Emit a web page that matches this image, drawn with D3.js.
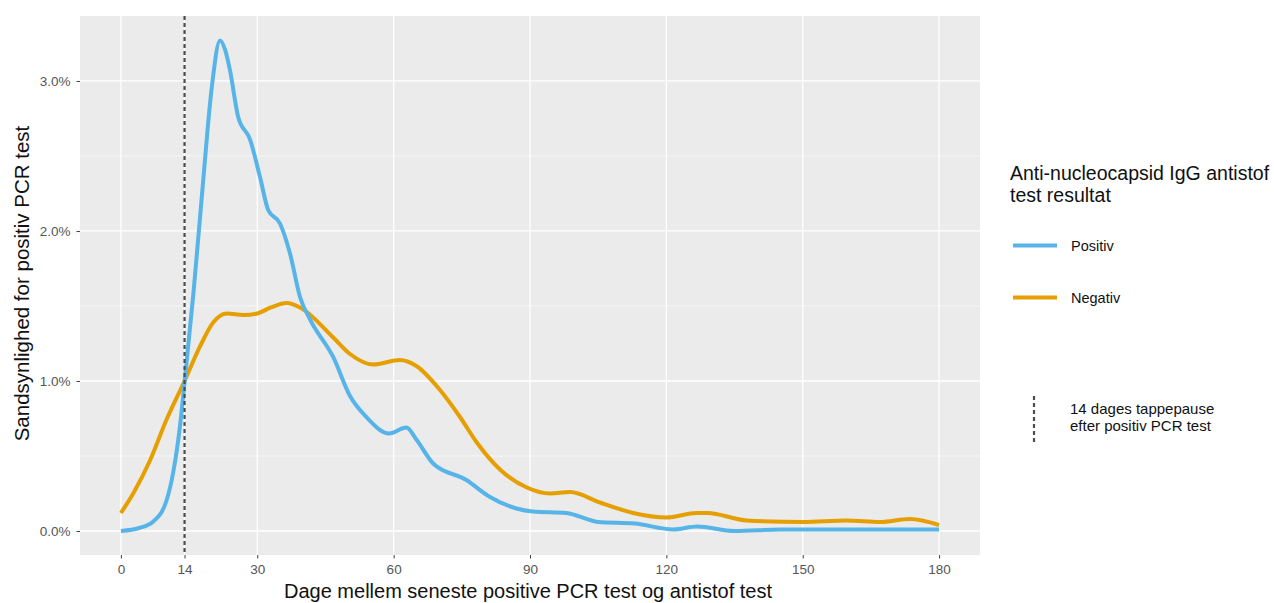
<!doctype html>
<html>
<head>
  <meta charset="utf-8">
  <title>Sandsynlighed for positiv PCR test</title>
  <style>
    body { margin: 0; background: #fff; }
    svg { display: block; font-family: "Liberation Sans", Arial, sans-serif; }
  </style>
</head>
<body>
  <div id="chart"></div>
  <script src="https://d3js.org/d3.v7.min.js"></script>
  <script>
    // data (day, percent)
    const posDays = [0, 4, 7, 10, 11.5, 13, 14, 16, 18, 20, 21.8, 23, 24, 25.8, 28.4, 30.6, 32.4, 35, 37.2, 39.4, 41.6, 46.7, 50.4, 54, 59, 62.8, 65, 68.7, 76, 81, 87, 90.7, 98, 105, 113, 121.5, 126.7, 135, 145, 155, 165, 172, 180];
    const posValues = [0, 0.02, 0.06, 0.2, 0.39, 0.7, 0.99, 1.6, 2.3, 2.96, 3.27, 3.2, 3.07, 2.76, 2.61, 2.36, 2.14, 2.05, 1.85, 1.56, 1.41, 1.16, 0.9, 0.76, 0.65, 0.69, 0.61, 0.45, 0.34, 0.23, 0.15, 0.13, 0.12, 0.06, 0.05, 0.01, 0.03, 0.0, 0.01, 0.01, 0.01, 0.01, 0.01];
    const negDays = [0, 2.7, 6.4, 10, 14, 17.4, 20.3, 23.3, 27, 30, 33, 36.5, 39.4, 46.7, 50.4, 55.5, 61.4, 65, 70.2, 74.6, 78.3, 83.4, 89.3, 94.4, 98.8, 105.4, 112.7, 120, 126.7, 129, 137.7, 150, 159.7, 167, 173.6, 180];
    const negValues = [0.12, 0.25, 0.47, 0.74, 1.0, 1.23, 1.39, 1.45, 1.44, 1.45, 1.49, 1.52, 1.49, 1.29, 1.18, 1.11, 1.14, 1.1, 0.94, 0.76, 0.59, 0.41, 0.29, 0.25, 0.26, 0.19, 0.12, 0.09, 0.12, 0.12, 0.07, 0.06, 0.07, 0.06, 0.08, 0.04];

    const xBreaks = [0, 14, 30, 60, 90, 120, 150, 180];
    const yBreaks = [0, 1, 2, 3];
    const yMinor = [0.5, 1.5, 2.5];
    const seriesNames = ['Positiv', 'Negativ'];
    const seriesColors = ['#56B4E9', '#E69F00'];
    const pauseDay = 14;

    const W = 1274, H = 603;
    const panel = { left: 80, top: 16, right: 980, bottom: 555 };

    const svg = d3.select('#chart').append('svg').attr('width', W).attr('height', H);

    const x = d3.scaleLinear().domain([-9, 189]).range([panel.left, panel.right]);
    const y = d3.scaleLinear().domain([-0.16, 3.433]).range([panel.bottom, panel.top]);

    // panel background
    svg.append('rect')
      .attr('x', panel.left).attr('y', panel.top)
      .attr('width', panel.right - panel.left).attr('height', panel.bottom - panel.top)
      .attr('fill', '#EBEBEB');

    // grid
    svg.append('g').selectAll('line').data(yMinor).join('line')
      .attr('x1', panel.left).attr('x2', panel.right)
      .attr('y1', d => y(d)).attr('y2', d => y(d))
      .attr('stroke', '#fff').attr('stroke-width', 0.6);
    svg.append('g').selectAll('line').data(yBreaks).join('line')
      .attr('x1', panel.left).attr('x2', panel.right)
      .attr('y1', d => y(d)).attr('y2', d => y(d))
      .attr('stroke', '#fff').attr('stroke-width', 1.3);
    svg.append('g').selectAll('line').data(xBreaks).join('line')
      .attr('y1', panel.top).attr('y2', panel.bottom)
      .attr('x1', d => x(d)).attr('x2', d => x(d))
      .attr('stroke', '#fff').attr('stroke-width', 1.3);

    // axes
    const xAxis = svg.append('g')
      .attr('transform', `translate(0,${panel.bottom})`)
      .call(d3.axisBottom(x).tickValues(xBreaks).tickSize(3.5).tickPadding(6));
    const yAxis = svg.append('g')
      .attr('transform', `translate(${panel.left},0)`)
      .call(d3.axisLeft(y).tickValues(yBreaks).tickSize(3.5).tickPadding(6)
        .tickFormat(d => d.toFixed(1) + '%'));
    [xAxis, yAxis].forEach(a => {
      a.select('.domain').remove();
      a.selectAll('.tick line').attr('stroke', '#444').attr('stroke-width', 1);
      a.selectAll('.tick text').attr('fill', '#555').style('font-size', '13.5px');
    });

    // axis titles
    svg.append('text')
      .attr('x', (panel.left + panel.right) / 2 - 2).attr('y', 598)
      .attr('text-anchor', 'middle').style('font-size', '20px').attr('fill', '#111')
      .text('Dage mellem seneste positive PCR test og antistof test');
    svg.append('text')
      .attr('transform', `translate(29,${(panel.top + panel.bottom) / 2 - 2}) rotate(-90)`)
      .attr('text-anchor', 'middle').style('font-size', '20.5px').attr('fill', '#111')
      .text('Sandsynlighed for positiv PCR test');

    // curves
    const line = d3.line()
      .x(d => x(d[0])).y(d => y(d[1]))
      .curve(d3.curveMonotoneX);
    const series = [
      d3.zip(negDays, negValues),
      d3.zip(posDays, posValues)
    ];
    const seriesCol = [seriesColors[1], seriesColors[0]];
    svg.append('g').selectAll('path').data(series).join('path')
      .attr('d', line)
      .attr('fill', 'none')
      .attr('stroke', (d, i) => seriesCol[i])
      .attr('stroke-width', 4)
      .attr('stroke-linejoin', 'round')
      .attr('stroke-linecap', 'butt');

    // 14 day pause
    svg.append('line')
      .attr('x1', x(pauseDay)).attr('x2', x(pauseDay))
      .attr('y1', panel.top).attr('y2', panel.bottom)
      .attr('stroke', '#4D4D4D').attr('stroke-width', 2.2)
      .attr('stroke-dasharray', '4,3');

    // legend
    const lg = svg.append('g');
    lg.append('text').attr('x', 1010).attr('y', 180).style('font-size', '19.5px').attr('fill', '#111')
      .text('Anti-nucleocapsid IgG antistof');
    lg.append('text').attr('x', 1010).attr('y', 202).style('font-size', '19.5px').attr('fill', '#111')
      .text('test resultat');
    seriesNames.forEach((name, i) => {
      const ly = 245.5 + i * 52;
      lg.append('line').attr('x1', 1013).attr('x2', 1057).attr('y1', ly).attr('y2', ly)
        .attr('stroke', seriesColors[i]).attr('stroke-width', 4);
      lg.append('text').attr('x', 1071).attr('y', ly + 5.5).style('font-size', '14.5px').attr('fill', '#111')
        .text(name);
    });
    lg.append('line').attr('x1', 1034).attr('x2', 1034).attr('y1', 396).attr('y2', 442)
      .attr('stroke', '#4D4D4D').attr('stroke-width', 2.2).attr('stroke-dasharray', '4,3');
    lg.append('text').attr('x', 1070).attr('y', 414).style('font-size', '15px').attr('fill', '#111')
      .text('14 dages tappepause');
    lg.append('text').attr('x', 1070).attr('y', 431).style('font-size', '15px').attr('fill', '#111')
      .text('efter positiv PCR test');
  </script>
</body>
</html>
